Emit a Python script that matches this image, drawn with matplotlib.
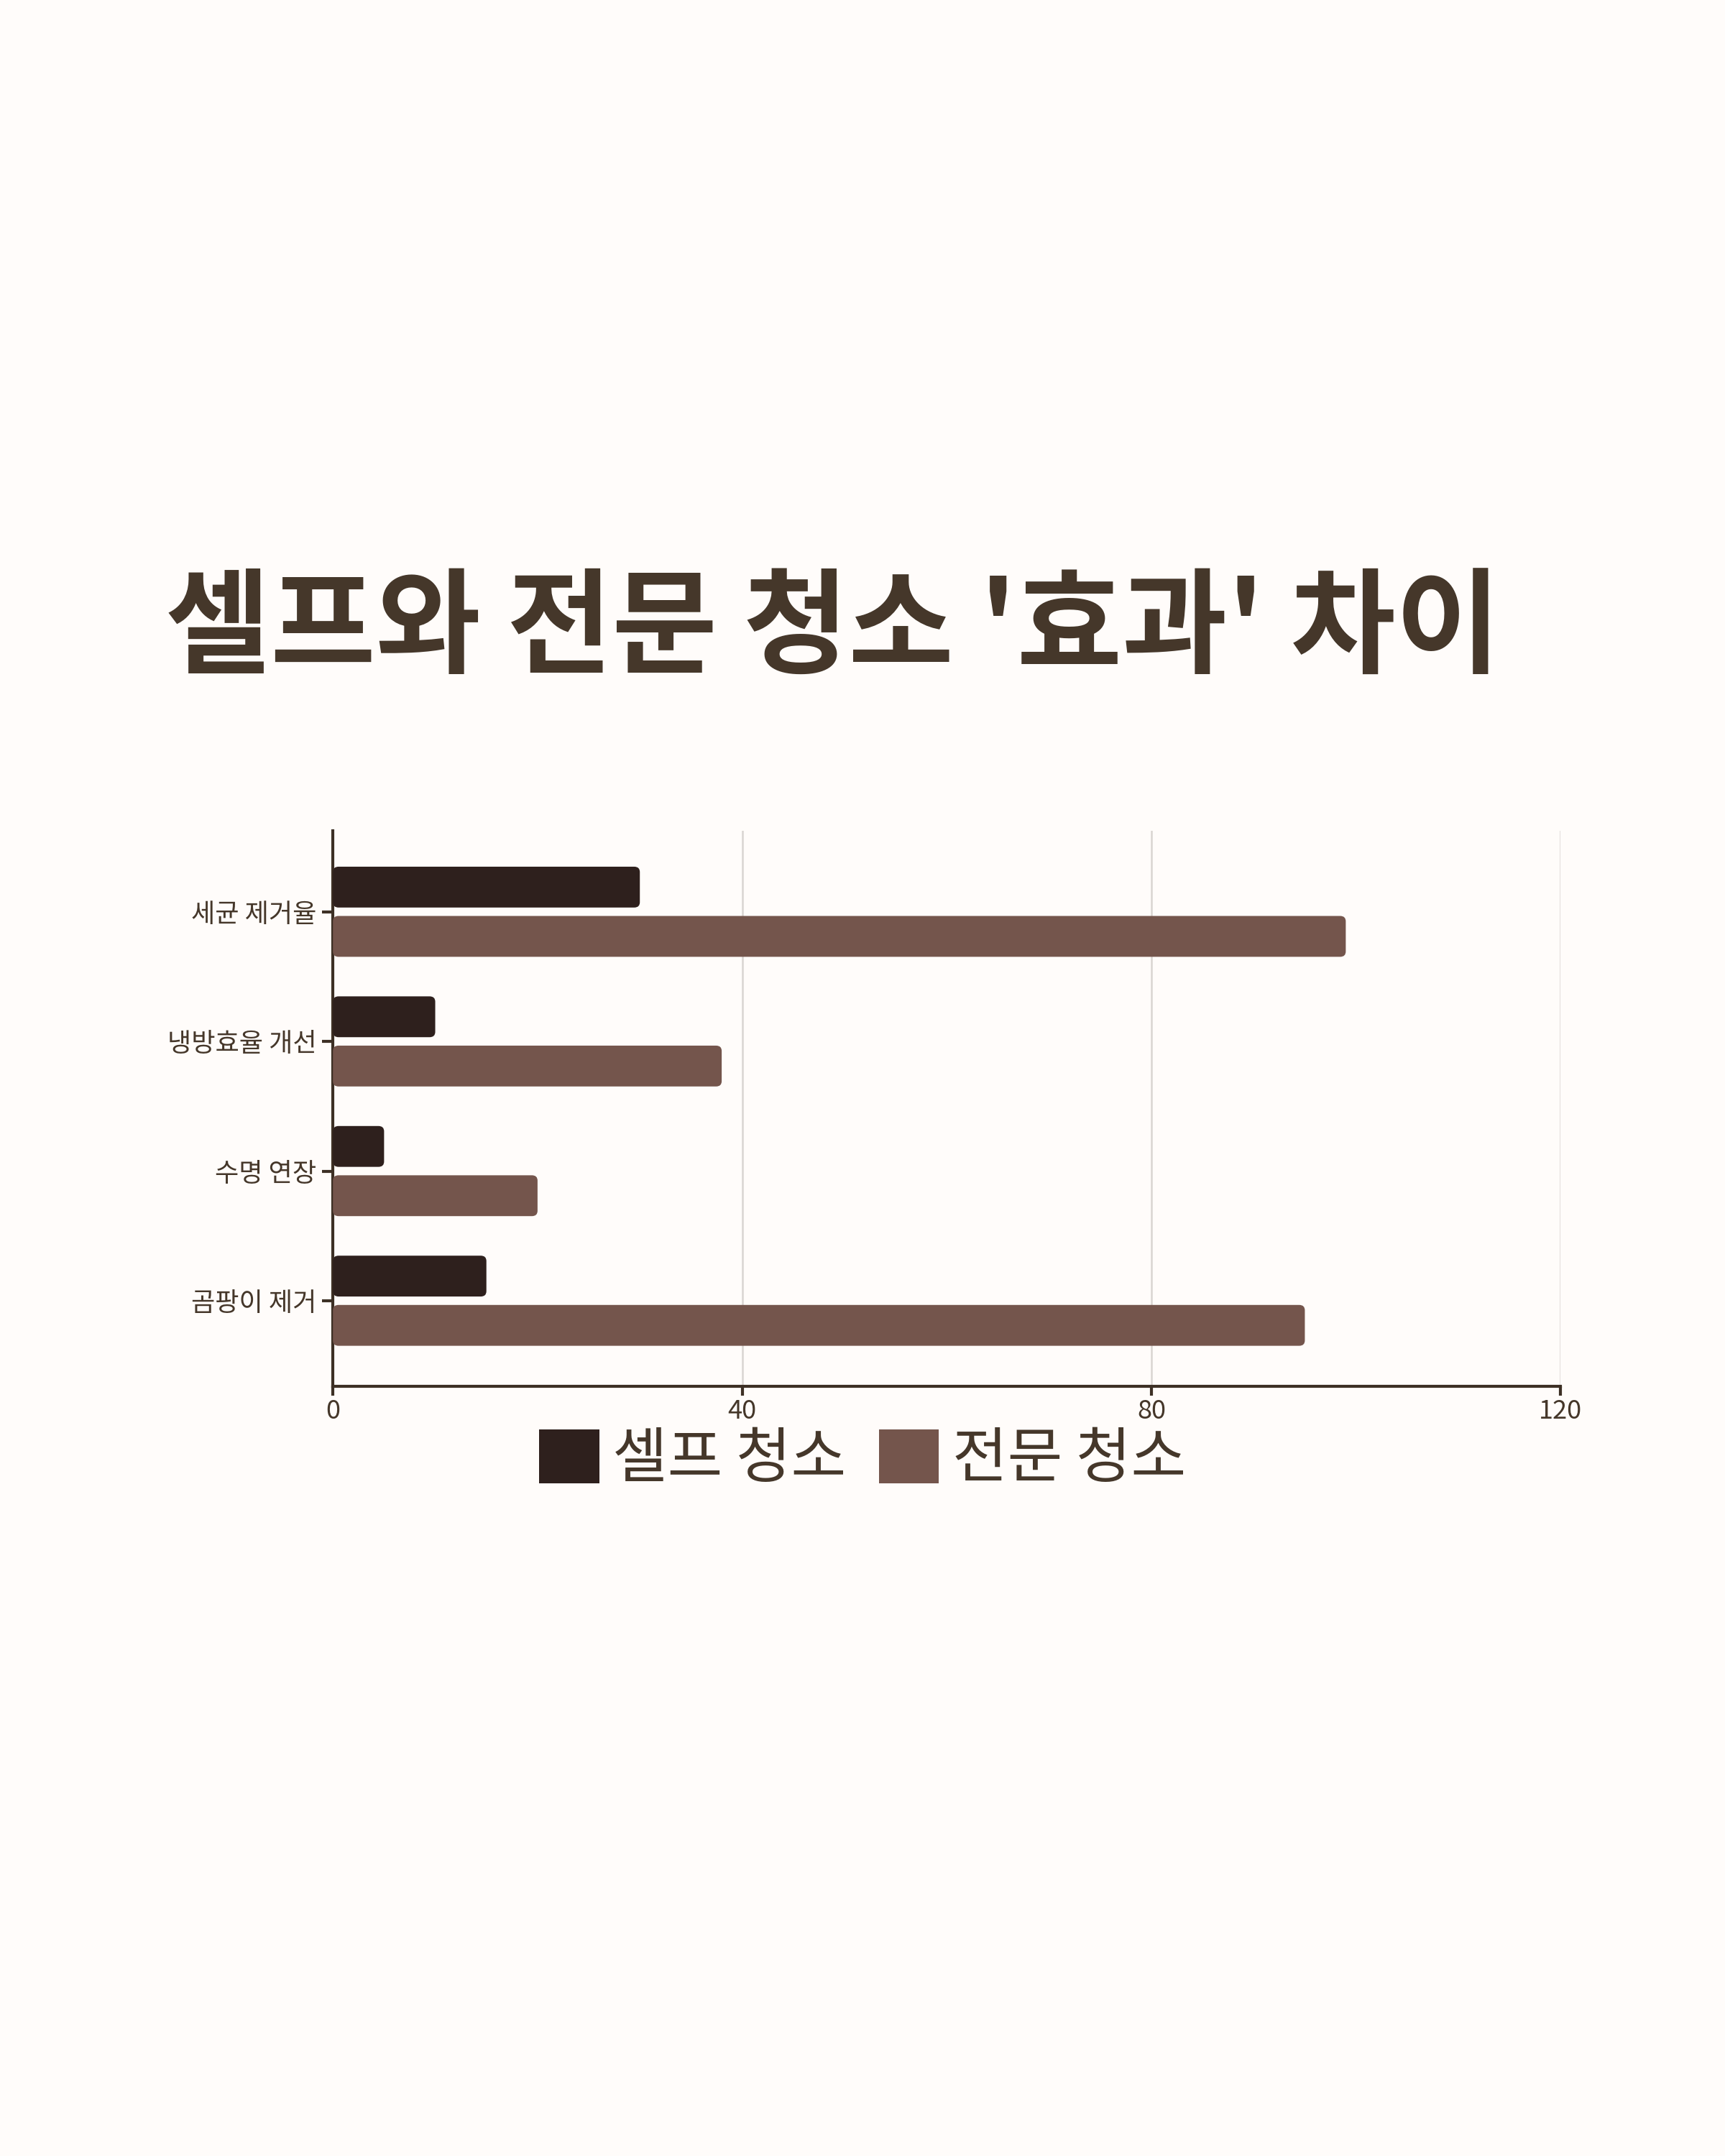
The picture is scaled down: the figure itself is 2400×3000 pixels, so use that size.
import matplotlib
matplotlib.use("Agg")
import matplotlib.pyplot as plt
from matplotlib.patches import FancyBboxPatch, Patch

plt.rcParams['font.family'] = ['Noto Sans CJK KR', 'DejaVu Sans']

title = "셀프와 전문 청소 '효과' 차이"
categories = ["세균 제거율", "냉방효율 개선", "수명 연장", "곰팡이 제거"]
series_names = ["셀프 청소", "전문 청소"]
self_values = [30, 10, 5, 15]
pro_values = [99, 38, 20, 95]
x_ticks = [0, 40, 80, 120]

BG = "#fffcfa"
TEXT = "#45372a"
C_SELF = "#2e201d"
C_PRO = "#74554c"

fig = plt.figure(figsize=(8, 10), dpi=300, facecolor=BG)
ax = fig.add_axes([0.193, 0.357, 0.7117, 0.2577], facecolor=BG)

ypos = list(range(len(categories)))
h = 0.315
off = 0.19
b1 = ax.barh([y - off for y in ypos], self_values, height=h, color=C_SELF, zorder=3)
b2 = ax.barh([y + off for y in ypos], pro_values, height=h, color=C_PRO, zorder=3)

# replace with rounded bars
for bars in (b1, b2):
    for p in bars.patches:
        x0, y0 = p.get_x(), p.get_y()
        w, hh = p.get_width(), p.get_height()
        fb = FancyBboxPatch((x0, y0), w, hh,
                            boxstyle="round,pad=0,rounding_size=0.55",
                            mutation_aspect=0.075,
                            facecolor=p.get_facecolor(), edgecolor='none', zorder=3)
        p.set_visible(False)
        ax.add_patch(fb)

ax.set_xlim(0, 120)
ax.set_ylim(3.66, -0.625)
ax.set_xticks(x_ticks)
ax.set_xticklabels([str(t) for t in x_ticks])
ax.set_yticks(ypos)
ax.set_yticklabels(categories)

ax.grid(axis='x', color='#d9d5d1', linewidth=0.6, zorder=0)
ax.grid(axis='y', visible=False)
for s in ('top', 'right'):
    ax.spines[s].set_visible(False)
for s in ('left', 'bottom'):
    ax.spines[s].set_color('#3d3025')
    ax.spines[s].set_linewidth(1.0)

ax.tick_params(axis='y', length=3.5, width=1.0, color='#3d3025', labelsize=8.7,
               labelcolor=TEXT, pad=2)
ax.tick_params(axis='x', length=3.0, width=1.0, color='#3d3025', labelsize=8.7,
               labelcolor=TEXT, pad=1.0)

fig.text(0.096, 0.692, title, fontsize=38.2, fontweight='bold', color=TEXT,
         ha='left', va='baseline')

handles = [Patch(facecolor=C_SELF, edgecolor='none'),
           Patch(facecolor=C_PRO, edgecolor='none')]
fig.legend(handles, series_names, loc='center', bbox_to_anchor=(0.5, 0.323),
           ncol=2, frameon=False, fontsize=20, labelcolor=TEXT,
           handlelength=1.0, handleheight=1.0, handletextpad=0.22,
           columnspacing=0.55)

fig.savefig("out.png", dpi=300, facecolor=BG)
